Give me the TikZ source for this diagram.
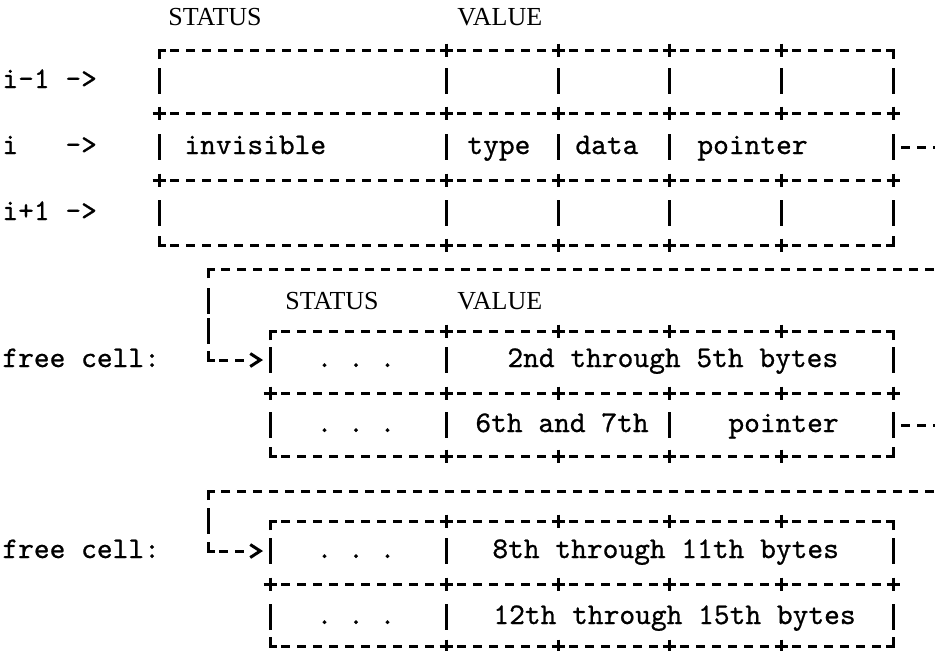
\documentclass[tikz,border=0pt]{standalone}
\usepackage{fontspec}
\usetikzlibrary{arrows.meta}
\newfontfamily\typefont{lmmono10-regular}[Extension=.otf,FakeBold=0.7]
\newfontfamily\headfont{Liberation Serif}

\begin{document}
\begin{tikzpicture}[x=0.5pt,y=-0.5pt,
  rule/.style={line width=1.5pt},
  dashrule/.style={line width=1.5pt, dash pattern=on 4.6pt off 3.4pt,
                   shorten <=5.6pt, shorten >=5.6pt},
  feed/.style={line width=1.5pt, dash pattern=on 4.6pt off 3.4pt on 4.6pt off 40pt,
               shorten <=5.6pt, shorten >=3.5pt,
               -{Straight Barb[length=5pt,width=6.5pt]}},
  ascii/.style={font=\typefont\fontsize{15pt}{15pt}\selectfont, inner sep=0pt, anchor=base west},
  dots/.style={font=\typefont\fontsize{15pt}{15pt}\selectfont, inner sep=0pt, anchor=base},
  head/.style={font=\headfont\fontsize{13pt}{13pt}\selectfont, inner sep=0pt, anchor=base west},
  cross/.pic={\draw[rule] (-6.5,0)--(6.5,0) (0,-6.5)--(0,6.5);},
  cnrTL/.pic={\draw[rule] (0,9)--(0,0)--(7,0);},
  cnrTR/.pic={\draw[rule] (0,9)--(0,0)--(-7,0);},
  cnrBL/.pic={\draw[rule] (0,-9)--(0,0)--(7,0);},
  cnrBR/.pic={\draw[rule] (0,-9)--(0,0)--(-7,0);},
  vbar/.pic={\draw[rule] (0,-13)--(0,13);},
]
\useasboundingbox (0,0) rectangle (935,650);
\fill[white] (0,0) rectangle (935,650);
\clip (0,0) rectangle (935,650);

% ---------------- cell array ----------------
\node[head] (hdStatusA) at (168,25.5) {STATUS};
\node[head] (hdValueA)  at (457,25.5) {VALUE};

% borders
\foreach \y in {50,113,180,245} {
  \foreach \xa/\xb in {159/446,446/558,558/669,669/781,781/893}
    \draw[dashrule] (\xa,\y) -- (\xb,\y);
}
\foreach \y in {113,180} {
  \foreach \x in {159,446,558,669,781,893} \pic at (\x,\y) {cross};
}
\foreach \x in {446,558,669,781} {\pic at (\x,50) {cross}; \pic at (\x,245) {cross};}
\pic at (159,50) {cnrTL}; \pic at (893,50) {cnrTR};
\pic at (159,245) {cnrBL}; \pic at (893,245) {cnrBR};

% cell walls
\foreach \x in {159,446,558,669,781,893} {\pic at (\x,81) {vbar}; \pic at (\x,213) {vbar};}
\foreach \x in {159,446,558,669,893} \pic at (\x,147) {vbar};

% row labels and contents
\node[ascii] (rowPrev) at (2,88)  {i-1 ->};
\node[ascii] (rowCur)  at (2,154) {i\ \ \ ->};
\node[ascii] (rowNext) at (2,220) {i+1 ->};
\node[ascii] (cInvis)  at (184,154) {invisible};
\node[ascii] (cType)   at (467,154) {type};
\node[ascii] (cData)   at (575,154) {data};
\node[ascii] (cPtrA)   at (697,154) {pointer};

% pointer leaving the cell
\coordinate (ptrA) at (893,147);
\coordinate (ptrAout) at (950,147);
\draw[dashrule, shorten <=4pt, shorten >=0pt] (ptrA) -- (ptrAout);

% ---------------- first free cell ----------------
\coordinate (loopAin)  at (950,269);
\coordinate (loopAtop) at (208,269);
\coordinate (loopAbot) at (208,360);
\coordinate (cellBin)  at (270,360);
\draw[dashrule, shorten <=0pt] (loopAin) -- (loopAtop);
\pic at (loopAtop) {cnrTL};
\pic at (208,301) {vbar};
\pic at (208,331) {vbar};
\pic at (loopAbot) {cnrBL};
\draw[feed] (loopAbot) -- (cellBin);

\node[head] (hdStatusB) at (285,309.5) {STATUS};
\node[head] (hdValueB)  at (457,309.5) {VALUE};

\foreach \y in {331,393,456} {
  \foreach \xa/\xb in {270/446,446/558,558/669,669/781,781/893}
    \draw[dashrule] (\xa,\y) -- (\xb,\y);
}
\foreach \x in {270,446,558,669,781,893} \pic at (\x,393) {cross};
\foreach \x in {446,558,669,781} {\pic at (\x,331) {cross}; \pic at (\x,456) {cross};}
\pic at (270,331) {cnrTL}; \pic at (893,331) {cnrTR};
\pic at (270,456) {cnrBL}; \pic at (893,456) {cnrBR};
\foreach \x in {270,446,893} \pic at (\x,360) {vbar};
\foreach \x in {270,446,669,893} \pic at (\x,425) {vbar};

\node[ascii] (freeB)  at (2,367) {free cell:};
\node[dots]  (dotsB1) at (356,367) {.\ .\ .};
\node[ascii] (bytesB) at (507,367) {2nd through 5th bytes};
\node[dots]  (dotsB2) at (356,432) {.\ .\ .};
\node[ascii] (bytesC) at (475,432) {6th and 7th};
\node[ascii] (cPtrB)  at (728,432) {pointer};

\coordinate (ptrB) at (893,425);
\coordinate (ptrBout) at (950,425);
\draw[dashrule, shorten <=4pt, shorten >=0pt] (ptrB) -- (ptrBout);

% ---------------- second free cell ----------------
\coordinate (loopBin)  at (950,491);
\coordinate (loopBtop) at (208,491);
\coordinate (loopBbot) at (208,551);
\coordinate (cellCin)  at (270,551);
\draw[dashrule, shorten <=0pt] (loopBin) -- (loopBtop);
\pic at (loopBtop) {cnrTL};
\pic at (208,521) {vbar};
\pic at (loopBbot) {cnrBL};
\draw[feed] (loopBbot) -- (cellCin);

\foreach \y in {521,584,646} {
  \foreach \xa/\xb in {270/446,446/558,558/669,669/781,781/893}
    \draw[dashrule] (\xa,\y) -- (\xb,\y);
}
\foreach \x in {270,446,558,669,781,893} \pic at (\x,584) {cross};
\foreach \x in {446,558,669,781} {\pic at (\x,521) {cross}; \pic at (\x,646) {cross};}
\pic at (270,521) {cnrTL}; \pic at (893,521) {cnrTR};
\pic at (270,646) {cnrBL}; \pic at (893,646) {cnrBR};
\foreach \x in {270,446,893} {\pic at (\x,551) {vbar}; \pic at (\x,617) {vbar};}

\node[ascii] (freeC)  at (2,558) {free cell:};
\node[dots]  (dotsC1) at (356,558) {.\ .\ .};
\node[ascii] (bytesD) at (492,558) {8th through 11th bytes};
\node[dots]  (dotsC2) at (356,624) {.\ .\ .};
\node[ascii] (bytesE) at (493,624) {12th through 15th bytes};
\end{tikzpicture}
\end{document}
